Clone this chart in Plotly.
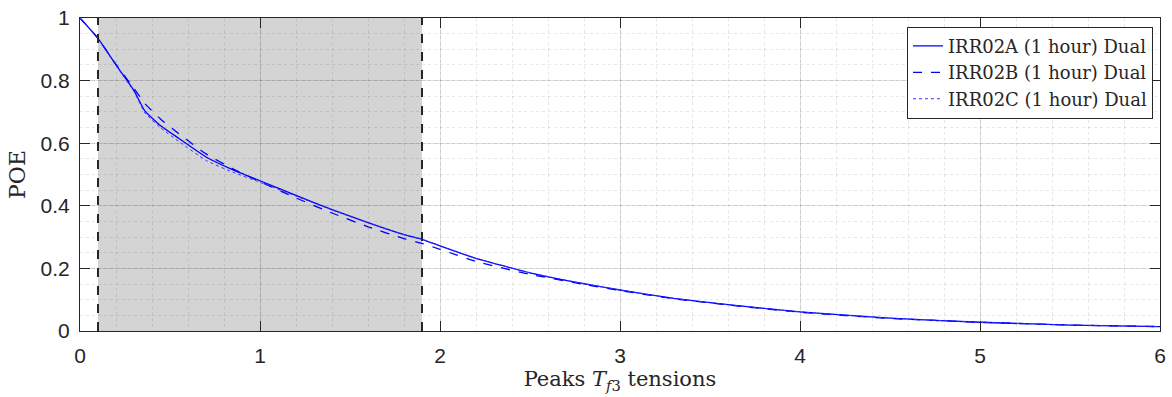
import plotly.graph_objects as go

# ---- data ----
x_vals = [0, 0.1, 0.2, 0.3, 0.36, 0.45, 0.55, 0.7, 0.85, 1.0, 1.2, 1.4, 1.6, 1.8, 1.9,
          2.0, 2.2, 2.5, 2.8, 3.0, 3.3, 3.6, 4.0, 4.5, 5.0, 5.5, 6.0]
poe_a = [1.0, 0.935, 0.850, 0.768, 0.703, 0.655, 0.615, 0.556, 0.515, 0.480, 0.433,
         0.388, 0.346, 0.308, 0.293, 0.272, 0.232, 0.186, 0.151, 0.131, 0.104, 0.084,
         0.061, 0.041, 0.028, 0.019, 0.014]
poe_b = [1.0, 0.935, 0.852, 0.775, 0.727, 0.676, 0.630, 0.566, 0.518, 0.477, 0.425,
         0.377, 0.333, 0.295, 0.280, 0.261, 0.222, 0.181, 0.149, 0.129, 0.103, 0.083,
         0.060, 0.040, 0.028, 0.019, 0.014]
poe_c = [1.0, 0.933, 0.848, 0.765, 0.697, 0.648, 0.605, 0.545, 0.507, 0.475, 0.431,
         0.387, 0.346, 0.308, 0.293, 0.272, 0.232, 0.186, 0.151, 0.131, 0.104, 0.084,
         0.061, 0.041, 0.028, 0.019, 0.014]
series_names = ["IRR02A (1 hour) Dual", "IRR02B (1 hour) Dual", "IRR02C (1 hour) Dual"]
band_lo, band_hi = 0.1, 1.9
x_ticks = [0, 1, 2, 3, 4, 5, 6]
y_ticks = [0, 0.2, 0.4, 0.6, 0.8, 1]
y_ticktext = ["0", "0.2", "0.4", "0.6", "0.8", "1"]

serif = "DejaVu Serif"
sans = "Liberation Sans"

fig = go.Figure()
fig.add_trace(go.Scatter(x=x_vals, y=poe_a, name=series_names[0], mode="lines",
                         line=dict(color="#0000ff", width=1.3, dash="solid", shape="spline", smoothing=0.4)))
fig.add_trace(go.Scatter(x=x_vals, y=poe_b, name=series_names[1], mode="lines",
                         line=dict(color="#0000ff", width=1.3, dash="dash", shape="spline", smoothing=0.4)))
fig.add_trace(go.Scatter(x=x_vals, y=poe_c, name=series_names[2], mode="lines",
                         line=dict(color="#3333ff", width=1.0, dash="dot", shape="spline", smoothing=0.4)))

fig.add_shape(type="rect", xref="x", yref="paper", x0=band_lo, x1=band_hi, y0=0, y1=1,
              fillcolor="#d4d4d4", line=dict(width=0), layer="below")
for xv in (band_lo, band_hi):
    fig.add_shape(type="line", xref="x", yref="paper", x0=xv, x1=xv, y0=0, y1=1,
                  line=dict(color="#262626", width=2, dash="dash"), layer="above")

axis_common = dict(
    showline=True, linecolor="#262626", linewidth=1, mirror="ticks",
    ticks="inside", ticklen=10, tickcolor="#262626", tickwidth=1,
    showgrid=True, gridcolor="rgba(0,0,0,0.12)", gridwidth=1,
    zeroline=False, automargin=False,
    tickfont=dict(family=sans, size=21, color="#262626"),
)

fig.update_xaxes(range=[0, 6], tickvals=x_ticks, ticktext=[str(v) for v in x_ticks],
                 ticklabelstandoff=6,
                 minor=dict(dtick=0.2, showgrid=True, gridcolor="rgba(0,0,0,0.09)",
                            griddash="dot", ticks=""),
                 title=dict(text="Peaks <i>T</i><sub><i>f</i>3</sub> tensions",
                            font=dict(family=serif, size=21, color="#262626"), standoff=2),
                 **axis_common)
fig.update_yaxes(range=[0, 1], tickvals=y_ticks, ticktext=y_ticktext,
                 ticklabelstandoff=5,
                 minor=dict(dtick=0.05, showgrid=True, gridcolor="rgba(0,0,0,0.09)",
                            griddash="dot", ticks=""),
                 title=dict(text="POE", font=dict(family=serif, size=22, color="#262626"),
                            standoff=8),
                 **axis_common)

fig.update_layout(
    width=1172, height=397,
    margin=dict(l=80, r=12, t=18, b=66),
    paper_bgcolor="white", plot_bgcolor="white",
    showlegend=True,
    legend=dict(x=0.9935, y=0.972, xanchor="right", yanchor="top",
                bgcolor="white", bordercolor="#262626", borderwidth=1,
                font=dict(family=serif, size=18, color="#262626"),
                tracegroupgap=0, itemwidth=30),
)

fig.write_html("out.html")
